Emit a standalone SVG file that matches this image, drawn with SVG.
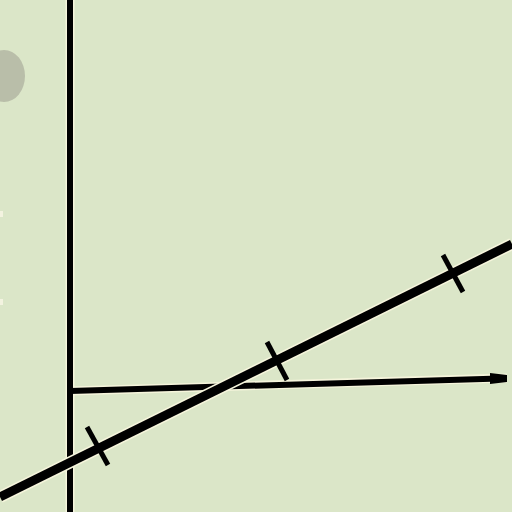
<svg xmlns="http://www.w3.org/2000/svg" width="512" height="512" viewBox="0 0 512 512">
<style>
.halo{stroke:#f6f5dc;fill:none;stroke-linecap:butt}
.ink{stroke:#000;fill:none;stroke-linecap:butt}
</style>
<rect width="512" height="512" fill="#dbe6c8"/>
<ellipse cx="4" cy="76" rx="21" ry="26" fill="#b9bea9"/>
<rect x="0" y="211" width="3" height="6" fill="#f3f3e0"/>
<rect x="0" y="299" width="3" height="6" fill="#f3f3e0"/>
<g id="axes">
<line class="halo" x1="70" y1="0" x2="70" y2="512" stroke-width="9"/>
<line class="halo" x1="70" y1="391" x2="507" y2="378" stroke-width="9"/>
<line class="ink" x1="70" y1="0" x2="70" y2="512" stroke-width="6"/>
<line class="ink" x1="70" y1="391" x2="500" y2="378.5" stroke-width="6"/>
<polygon points="490,373 507,375 507,382 490,384" fill="#000"/>
</g>
<g id="connectors">
<line class="halo" x1="0" y1="497" x2="512" y2="244" stroke-width="12"/>
<line class="ink" x1="0" y1="497" x2="512" y2="244" stroke-width="9"/>
<line class="ink" x1="87" y1="427" x2="108" y2="465" stroke-width="5"/>
<line class="ink" x1="267" y1="342" x2="287" y2="380" stroke-width="5"/>
<line class="ink" x1="443" y1="255" x2="463" y2="292" stroke-width="5"/>
</g>
</svg>
